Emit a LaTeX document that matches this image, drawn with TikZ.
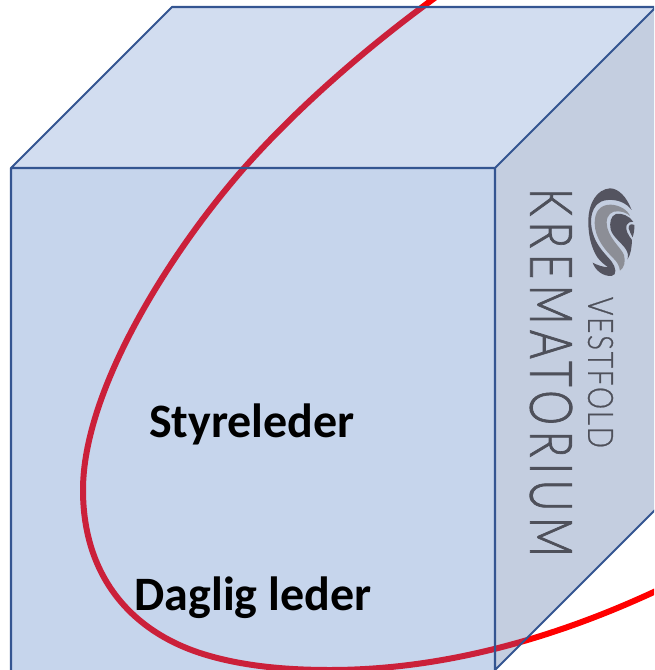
\documentclass[tikz,border=0pt]{standalone}
\usepackage{fontspec}
\setmainfont{Carlito}
\newfontfamily\logofont{Lato Light}[LetterSpace=12,FakeBold=1.5]
\newfontfamily\logofontb{Lato Light}[LetterSpace=6,FakeBold=0.8]
\definecolor{frontc}{RGB}{198,213,236}
\definecolor{topc}{RGB}{210,221,240}
\definecolor{sidec}{RGB}{196,206,224}
\definecolor{edgec}{RGB}{52,85,145}
\definecolor{redin}{RGB}{203,32,58}
\definecolor{logod}{RGB}{84,84,96}
\definecolor{logog}{RGB}{140,142,150}
\definecolor{txtc}{RGB}{78,80,90}
\tikzset{
  edgeline/.style={draw=edgec,line width=2.1pt,line join=round},
  curveline/.style={line width=6pt},
  lbl/.style={font=\bfseries\fontsize{48}{48}\selectfont,text=black,inner sep=0pt,anchor=base}
}
\newcommand{\ringcurve}{(436,-3) .. controls (370,45) and (300,105) .. (245,167) .. controls (170,252) and (83,390) .. (83,490) .. controls (83,575) and (130,630) .. (200,653) .. controls (240,666) and (285,670) .. (330,670) .. controls (430,670) and (540,645) .. (656,591)}
\begin{document}
\begin{tikzpicture}[x=1pt,y=-1pt]
\useasboundingbox (0,0) rectangle (654,670);
\clip (0,0) rectangle (654,670);
\draw[red,curveline] \ringcurve;
\coordinate (fa) at (11,168);
\coordinate (fb) at (495,168);
\coordinate (fc) at (495,670);
\coordinate (fd) at (11,670);
\coordinate (ta) at (172,7);
\coordinate (tb) at (656,7);
\coordinate (sb) at (656,509);
\fill[frontc] (fa)--(fb)--(fc)--(fd)--cycle;
\fill[topc] (fa)--(ta)--(tb)--(fb)--cycle;
\fill[sidec] (fb)--(tb)--(sb)--(fc)--cycle;
\begin{scope}
\clip (fa)--(ta)--(tb)--(sb)--(fc)--(fd)--cycle;
\draw[redin,curveline] \ringcurve;
\end{scope}
\draw[edgeline] (fa)--(fb)--(fc) (fd)--(fa)--(ta)--(tb)--(fb) (fc)--(sb) (tb)--(sb);
% logo, traced at three times its size
\begin{scope}[shift={(580,180)},x=0.333pt,y=-0.333pt]
\fill[logod] (155,90) .. controls (140,50) and (115,25) .. (90,25) .. controls (50,28) and (25,70) .. (25,125) .. controls (25,170) and (35,205) .. (52,232) .. controls (62,246) and (75,255) .. (84,262) .. controls (70,262) and (50,255) .. (38,248) .. controls (45,270) and (68,290) .. (95,288) .. controls (112,286) and (108,262) .. (95,245) .. controls (80,225) and (35,190) .. (33,125) .. controls (33,85) and (55,60) .. (85,60) .. controls (115,58) and (140,70) .. (155,90) -- cycle;
\fill[logog] (150,108) .. controls (145,92) and (120,75) .. (92,74) .. controls (60,74) and (44,95) .. (44,130) .. controls (45,175) and (75,210) .. (100,235) .. controls (112,246) and (118,258) .. (120,272) .. controls (132,265) and (138,245) .. (132,225) .. controls (125,205) and (80,170) .. (80,128) .. controls (80,105) and (95,92) .. (115,94) .. controls (130,95) and (142,100) .. (150,108) -- cycle;
\fill[logod] (160,125) .. controls (148,108) and (125,98) .. (108,102) .. controls (92,108) and (88,128) .. (92,148) .. controls (98,172) and (130,192) .. (140,212) .. controls (145,222) and (145,230) .. (143,238) .. controls (152,225) and (156,200) .. (156,180) .. controls (145,165) and (135,150) .. (140,135) .. controls (143,128) and (150,125) .. (160,125) -- cycle;
\fill[logod] (163,135) .. controls (152,130) and (146,135) .. (146,145) .. controls (148,155) and (155,165) .. (158,172) .. controls (162,160) and (164,148) .. (163,135) -- cycle;
\end{scope}
\node[rotate=-90,inner sep=0pt,text=txtc] (kr) at (551,372.5) {\resizebox{369pt}{42pt}{\logofont\fontsize{56}{56}\selectfont KREMATORIUM}};
\node[rotate=-90,inner sep=0pt,text=txtc] (ve) at (600.5,372.5) {\resizebox{151pt}{25pt}{\logofontb\fontsize{30}{30}\selectfont VESTFOLD}};
\node[lbl] (st) at (252,437) {Styreleder};
\node[lbl] (da) at (253,610) {Daglig leder};
\end{tikzpicture}
\end{document}
